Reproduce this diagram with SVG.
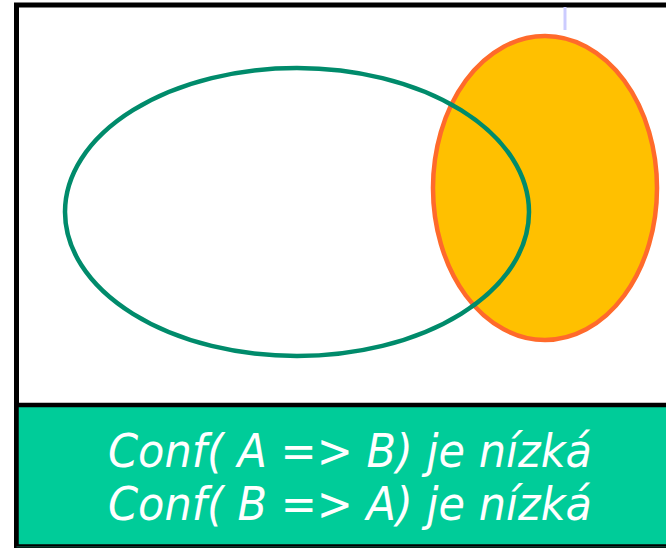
<svg xmlns="http://www.w3.org/2000/svg" width="666" height="548" viewBox="0 0 666 548">
<style>
.lbl{font-family:"DejaVu Sans",Verdana,sans-serif;font-style:italic;font-size:47px;fill:#ffffff;text-anchor:middle}
</style>
<rect x="0" y="0" width="666" height="548" fill="#ffffff"/>
<g id="frame">
<rect x="16.5" y="5" width="700" height="541" fill="#ffffff" stroke="#000000" stroke-width="5"/>
<line x1="565" y1="7" x2="565" y2="30" stroke="#ccccff" stroke-width="3"/>
</g>
<g id="setB">
<ellipse cx="545" cy="188" rx="112" ry="152" fill="#ffc000" stroke="#ff6a2b" stroke-width="4.5"/>
</g>
<g id="setA">
<ellipse cx="297" cy="212" rx="232" ry="144" fill="none" stroke="#008b6b" stroke-width="4.5"/>
</g>
<g id="caption">
<rect x="16.5" y="405" width="700" height="141.5" fill="#00cc99" stroke="#000000" stroke-width="4.5"/>
<line x1="16.5" y1="546.7" x2="666" y2="546.7" stroke="#0a3a2e" stroke-width="1.5"/>
<text class="lbl" x="350" y="467" textLength="484" lengthAdjust="spacingAndGlyphs">Conf( A =&gt; B) je nízká</text>
<text class="lbl" x="350" y="520" textLength="484" lengthAdjust="spacingAndGlyphs">Conf( B =&gt; A) je nízká</text>
</g>
</svg>
